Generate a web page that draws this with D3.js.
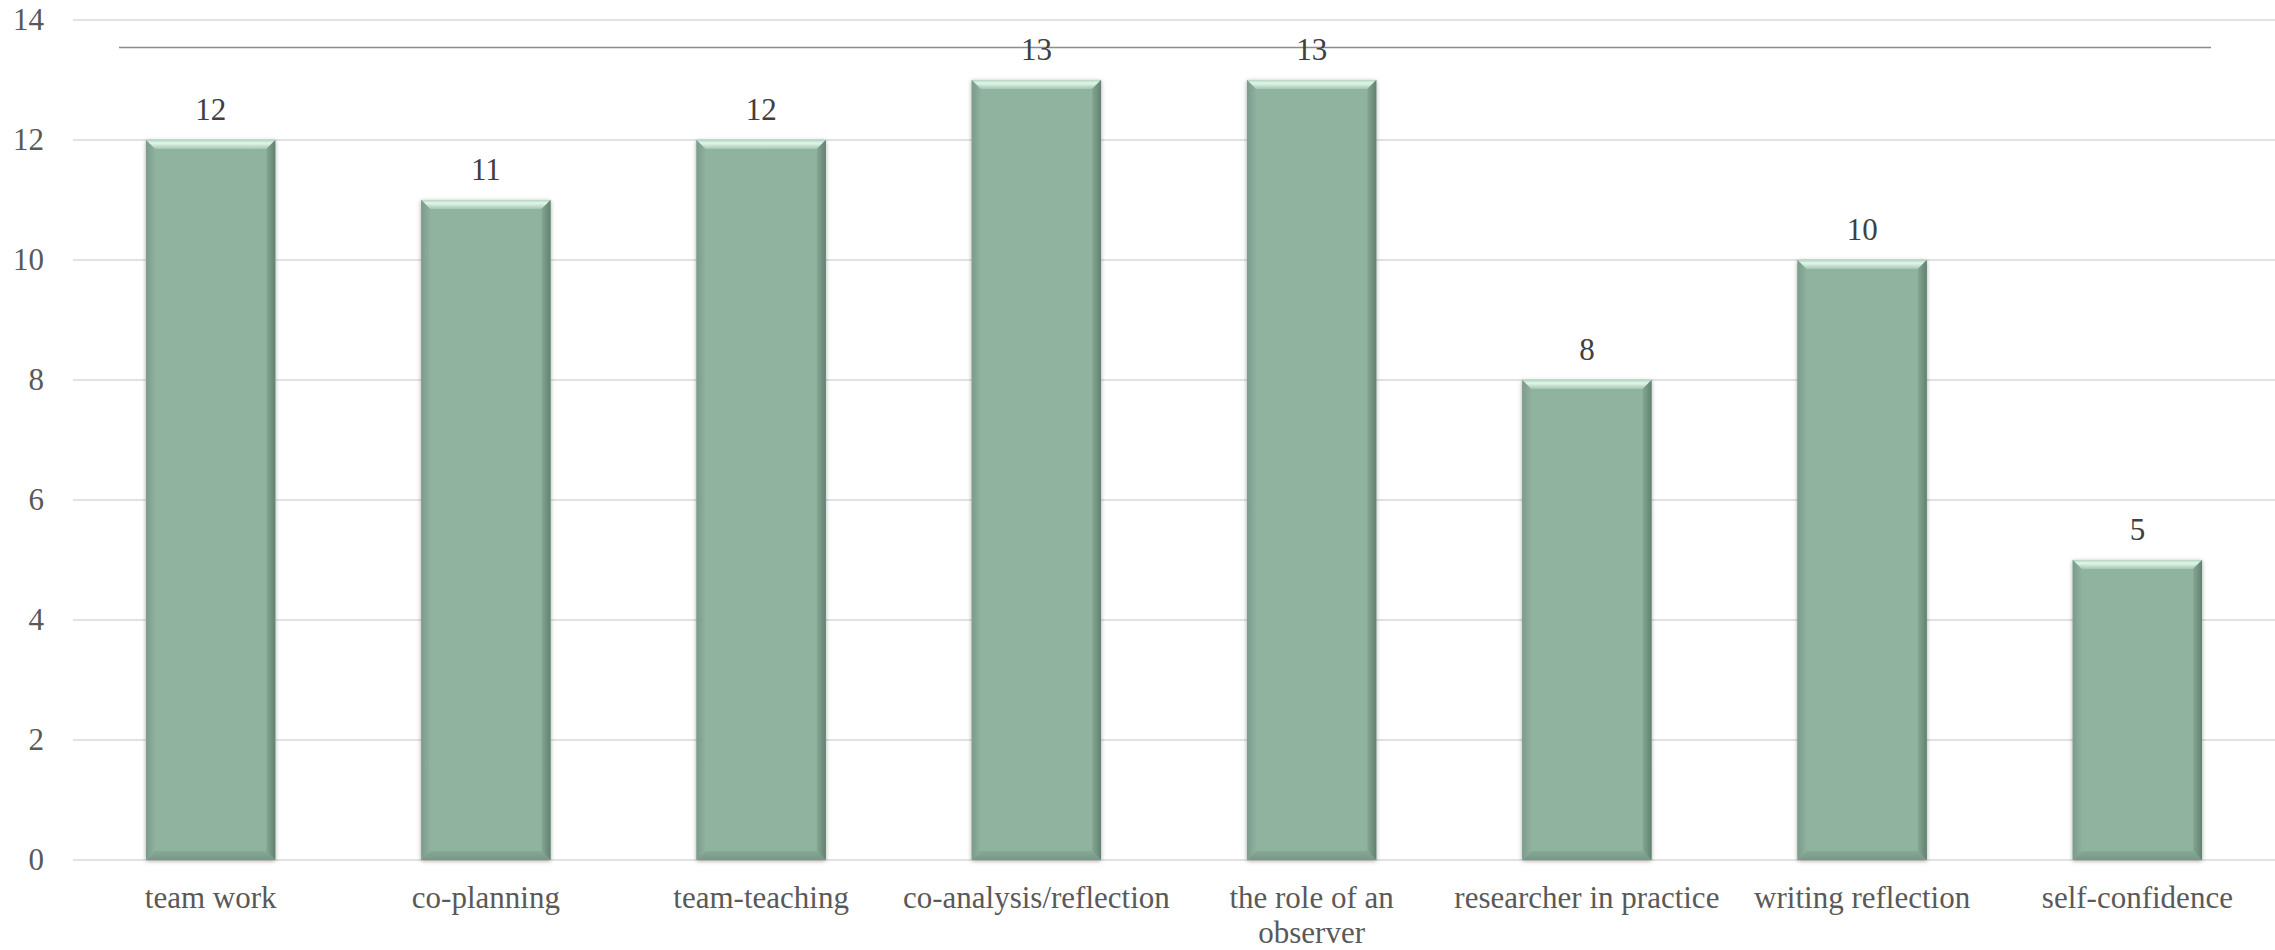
<!DOCTYPE html>
<html>
<head>
<meta charset="utf-8">
<script src="https://cdn.jsdelivr.net/npm/d3@7"></script>
<style>
  html, body { margin: 0; padding: 0; background: #ffffff; }
  svg { display: block; }
</style>
</head>
<body>
<div id="chart"></div>
<script>
// Categories and counts
const categories = [
  "team work", "co-planning", "team-teaching", "co-analysis/reflection",
  "the role of an observer", "researcher in practice", "writing reflection", "self-confidence"
];
const counts = [12, 11, 12, 13, 13, 8, 10, 5];
const yTicks = [0, 2, 4, 6, 8, 10, 12, 14];

const W = 2275, H = 950;
const margin = { top: 20, right: 0, bottom: 90, left: 73 };
const fontFamily = "'Liberation Serif', 'Times New Roman', serif";

const svg = d3.select("#chart").append("svg")
  .attr("width", W).attr("height", H);

const defs = svg.append("defs");

// soft drop shadow around bars
const shadow = defs.append("filter").attr("id", "barShadow")
  .attr("x", "-10%").attr("y", "-5%").attr("width", "120%").attr("height", "110%");
shadow.append("feDropShadow")
  .attr("dx", 0).attr("dy", 1).attr("stdDeviation", 2.2)
  .attr("flood-color", "#000").attr("flood-opacity", 0.35);

// bevel gradients
const gTop = defs.append("linearGradient").attr("id", "bevTop")
  .attr("x1", 0).attr("y1", 0).attr("x2", 0).attr("y2", 1);
gTop.append("stop").attr("offset", "0%").attr("stop-color", "#b4d6c3");
gTop.append("stop").attr("offset", "35%").attr("stop-color", "#e2f6eb");
gTop.append("stop").attr("offset", "100%").attr("stop-color", "#a3c6b2");

const gBottom = defs.append("linearGradient").attr("id", "bevBottom")
  .attr("x1", 0).attr("y1", 0).attr("x2", 0).attr("y2", 1);
gBottom.append("stop").attr("offset", "0%").attr("stop-color", "#86a896");
gBottom.append("stop").attr("offset", "100%").attr("stop-color", "#769886");

const gLeft = defs.append("linearGradient").attr("id", "bevLeft")
  .attr("x1", 0).attr("y1", 0).attr("x2", 1).attr("y2", 0);
gLeft.append("stop").attr("offset", "0%").attr("stop-color", "#7c9b8b");
gLeft.append("stop").attr("offset", "100%").attr("stop-color", "#8eb19e");

const gRight = defs.append("linearGradient").attr("id", "bevRight")
  .attr("x1", 0).attr("y1", 0).attr("x2", 1).attr("y2", 0);
gRight.append("stop").attr("offset", "0%").attr("stop-color", "#86a794");
gRight.append("stop").attr("offset", "100%").attr("stop-color", "#62806f");

const x = d3.scaleBand()
  .domain(categories)
  .range([margin.left, W - margin.right])
  .paddingInner(0.53)
  .paddingOuter(0.265);

const y = d3.scaleLinear()
  .domain([0, 14])
  .range([H - margin.bottom, margin.top]);

// horizontal gridlines
svg.append("g").selectAll("line.grid")
  .data(yTicks)
  .join("line")
  .attr("class", "grid")
  .attr("x1", margin.left).attr("x2", W - margin.right)
  .attr("y1", d => y(d)).attr("y2", d => y(d))
  .attr("stroke", "#d9d9d9").attr("stroke-width", 1.5);

// y axis labels
const yAxis = d3.axisLeft(y).tickValues(yTicks).tickSize(0).tickPadding(0);
const yG = svg.append("g")
  .attr("transform", `translate(44,0)`)
  .call(yAxis);
yG.select(".domain").remove();
yG.selectAll("text")
  .attr("font-family", fontFamily)
  .attr("font-size", 31)
  .attr("fill", "#595959");

// horizontal rule across the top
svg.append("line")
  .attr("x1", 119).attr("x2", 2211)
  .attr("y1", 47.5).attr("y2", 47.5)
  .attr("stroke", "#8c8c8c").attr("stroke-width", 1.6);

// bars with a beveled edge
const bev = 9;
const bars = svg.append("g").selectAll("g.bar")
  .data(categories.map((c, i) => ({ c, v: counts[i] })))
  .join("g")
  .attr("class", "bar");

bars.append("rect")
  .attr("x", d => x(d.c))
  .attr("y", d => y(d.v))
  .attr("width", x.bandwidth())
  .attr("height", d => y(0) - y(d.v))
  .attr("fill", "#8fb39f")
  .attr("filter", "url(#barShadow)");

function poly(pts) { return pts.map(p => p.join(",")).join(" "); }

bars.append("polygon") // top
  .attr("points", d => {
    const x0 = x(d.c), x1 = x0 + x.bandwidth(), y0 = y(d.v);
    return poly([[x0, y0], [x1, y0], [x1 - bev, y0 + bev], [x0 + bev, y0 + bev]]);
  })
  .attr("fill", "url(#bevTop)");

bars.append("polygon") // bottom
  .attr("points", d => {
    const x0 = x(d.c), x1 = x0 + x.bandwidth(), y1 = y(0);
    return poly([[x0, y1], [x1, y1], [x1 - bev, y1 - bev], [x0 + bev, y1 - bev]]);
  })
  .attr("fill", "url(#bevBottom)");

bars.append("polygon") // left
  .attr("points", d => {
    const x0 = x(d.c), y0 = y(d.v), y1 = y(0);
    return poly([[x0, y0], [x0 + bev, y0 + bev], [x0 + bev, y1 - bev], [x0, y1]]);
  })
  .attr("fill", "url(#bevLeft)");

bars.append("polygon") // right
  .attr("points", d => {
    const x1 = x(d.c) + x.bandwidth(), y0 = y(d.v), y1 = y(0);
    return poly([[x1, y0], [x1 - bev, y0 + bev], [x1 - bev, y1 - bev], [x1, y1]]);
  })
  .attr("fill", "url(#bevRight)");

// value labels
bars.append("text")
  .attr("x", d => x(d.c) + x.bandwidth() / 2)
  .attr("y", d => y(d.v) - 20)
  .attr("text-anchor", "middle")
  .attr("font-family", fontFamily)
  .attr("font-size", 31)
  .attr("fill", "#404040")
  .text(d => d.v);

// category labels, wrapped to the band width
const xLabels = svg.append("g").selectAll("text.cat")
  .data(categories)
  .join("text")
  .attr("class", "cat")
  .attr("x", d => x(d) + x.bandwidth() / 2)
  .attr("y", 908)
  .attr("text-anchor", "middle")
  .attr("font-family", fontFamily)
  .attr("font-size", 31)
  .attr("fill", "#595959");

const maxW = 272;
xLabels.each(function (d) {
  const t = d3.select(this);
  const words = d.split(" ");
  let line = [];
  let tspan = t.append("tspan").attr("x", x(d) + x.bandwidth() / 2).attr("dy", 0);
  let lineNo = 0;
  words.forEach(w => {
    line.push(w);
    tspan.text(line.join(" "));
    if (tspan.node().getComputedTextLength() > maxW && line.length > 1) {
      line.pop();
      tspan.text(line.join(" "));
      line = [w];
      lineNo++;
      tspan = t.append("tspan").attr("x", x(d) + x.bandwidth() / 2).attr("dy", 35).text(w);
    }
  });
});
</script>
</body>
</html>
